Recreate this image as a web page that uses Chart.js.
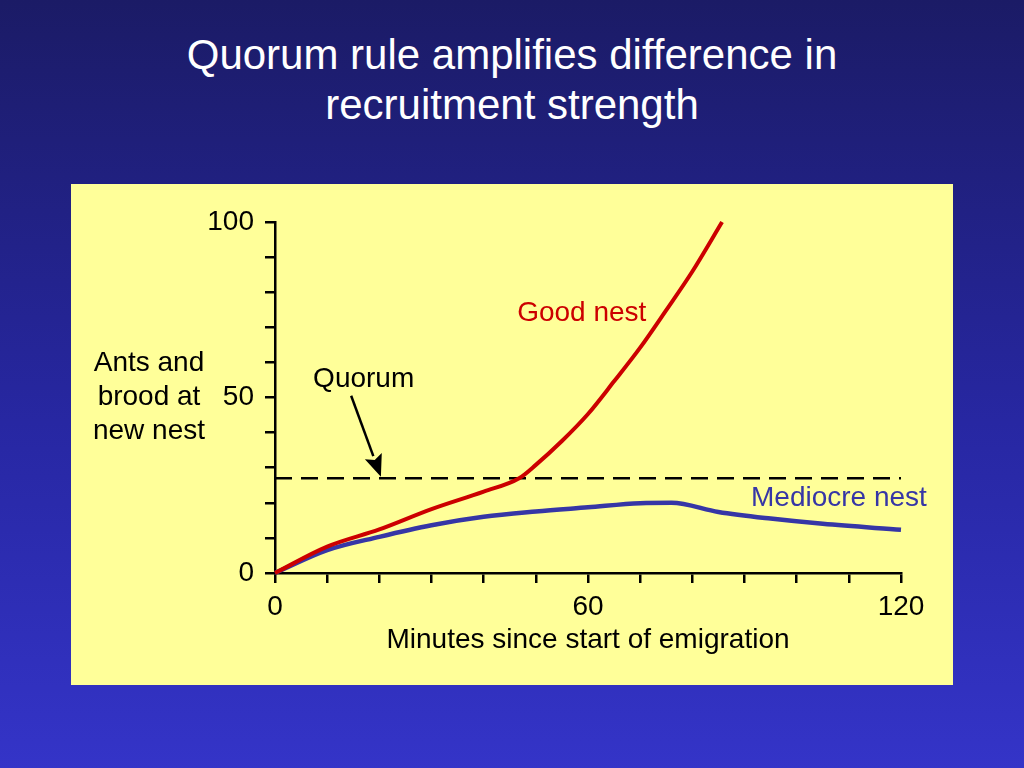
<!DOCTYPE html>
<html><head><meta charset="utf-8">
<script src="https://cdn.jsdelivr.net/npm/chart.js@4/dist/chart.umd.min.js"></script>
<style>
html,body{margin:0;padding:0;width:1024px;height:768px;overflow:hidden;}
body{background:linear-gradient(to bottom,#1b1b66 0%,#2727a2 55%,#3434c8 100%);font-family:"Liberation Sans",Arial,sans-serif;}
#title{position:absolute;left:0;top:30px;width:1024px;text-align:center;color:#fff;font-size:42px;line-height:50px;}
#panel{position:absolute;left:71px;top:184px;width:882px;height:501px;background:#ffff99;}
canvas{display:block;}
</style></head>
<body>
<div id="title">Quorum rule amplifies difference in<br>recruitment strength</div>
<div id="panel"><canvas id="c" width="882" height="501"></canvas></div>
<script>
// ---- data ----
const goodMinutes = [0, 10, 20, 30, 40, 46.8, 50, 55, 60, 65, 70, 75, 80, 85.7];
const goodValues  = [0, 7.5, 12.4, 18.2, 23.2, 27, 30.8, 37.6, 45.3, 54.6, 64.2, 74.9, 85.9, 100];
const medMinutes  = [0, 10, 20, 30, 40, 50, 60, 70, 76, 85, 95, 105, 120];
const medValues   = [0, 6.5, 10.3, 13.6, 16, 17.5, 18.7, 19.9, 20, 17.4, 15.5, 14, 12.3];
const quorumMinutes = [0, 120];
const quorumValues  = [27, 27];
const xTickLabels = [0, 60, 120];
const yTickLabels = [0, 50, 100];
const yTitleLines = ['Ants and', 'brood at', 'new nest'];

const FONT = '"Liberation Sans", Arial, Helvetica, sans-serif';
const toXY = (xs, ys) => xs.map((x, i) => ({x: x, y: ys[i]}));

const annotations = {
  labels: [
    {text: 'Good nest', x: 58.8, y: 74, color: '#cc0000'},
    {text: 'Quorum', x: 17, y: 55.3, color: '#000000'},
    {text: 'Mediocre nest', x: 108.1, y: 21.2, color: '#3636a6'}
  ],
  arrow: {from: [14.6, 50.5], to: [20.3, 27.4]}
};

const overlay = {
  id: 'overlay',
  afterDatasetsDraw(chart) {
    const ctx = chart.ctx, xs = chart.scales.x, ys = chart.scales.y;
    ctx.save();
    // arrow
    const a = annotations.arrow;
    const x1 = xs.getPixelForValue(a.from[0]), y1 = ys.getPixelForValue(a.from[1]);
    const x2 = xs.getPixelForValue(a.to[0]), y2 = ys.getPixelForValue(a.to[1]);
    const ang = Math.atan2(y2 - y1, x2 - x1);
    const hl = 22, hw = 9;
    const bx = x2 - hl * Math.cos(ang), by = y2 - hl * Math.sin(ang);
    ctx.strokeStyle = '#000'; ctx.fillStyle = '#000'; ctx.lineWidth = 2.5;
    ctx.beginPath(); ctx.moveTo(x1, y1); ctx.lineTo(bx, by); ctx.stroke();
    ctx.beginPath();
    ctx.moveTo(x2, y2);
    ctx.lineTo(bx + hw * Math.sin(ang), by - hw * Math.cos(ang));
    ctx.lineTo(bx + 4 * Math.cos(ang), by + 4 * Math.sin(ang));
    ctx.lineTo(bx - hw * Math.sin(ang), by + hw * Math.cos(ang));
    ctx.closePath(); ctx.fill();
    // labels
    ctx.font = '28px ' + FONT;
    ctx.textAlign = 'center'; ctx.textBaseline = 'middle';
    annotations.labels.forEach(l => {
      ctx.fillStyle = l.color;
      ctx.fillText(l.text, xs.getPixelForValue(l.x), ys.getPixelForValue(l.y));
    });
    // y title (horizontal lines)
    ctx.fillStyle = '#000';
    const cx = chart.chartArea.left - 126, cy = ys.getPixelForValue(50);
    yTitleLines.forEach((t, i) => ctx.fillText(t, cx, cy + (i - 1) * 34));
    ctx.restore();
  }
};

const tickFont = {family: FONT, size: 28};
new Chart(document.getElementById('c'), {
  type: 'line',
  data: {
    datasets: [
      {label: 'Good nest', data: toXY(goodMinutes, goodValues), borderColor: '#cc0000', borderWidth: 4,
       pointRadius: 0, cubicInterpolationMode: 'monotone', clip: 8},
      {label: 'Mediocre nest', data: toXY(medMinutes, medValues), borderColor: '#3636a6', borderWidth: 4.5,
       pointRadius: 0, cubicInterpolationMode: 'monotone', clip: 8},
      {label: 'Quorum', data: toXY(quorumMinutes, quorumValues), borderColor: '#000', borderWidth: 2.5,
       borderDash: [17, 9], pointRadius: 0, clip: 8}
    ]
  },
  options: {
    responsive: false, animation: false,
    layout: {padding: {left: 0, right: 52, top: 38, bottom: 0}},
    plugins: {legend: {display: false}, tooltip: {enabled: false}, title: {display: false}},
    scales: {
      x: {
        type: 'linear', min: 0, max: 120, position: 'bottom',
        border: {display: true, color: '#000', width: 2.5},
        grid: {display: true, drawOnChartArea: false, drawTicks: true, tickLength: 10, color: '#000', lineWidth: 2.5},
        ticks: {stepSize: 10, autoSkip: false, maxRotation: 0, color: '#000', font: tickFont, padding: 7,
                callback: v => xTickLabels.includes(v) ? String(v) : ''},
        title: {display: true, text: 'Minutes since start of emigration', color: '#000', font: tickFont,
                padding: {top: 4, bottom: 28}},
        afterFit: s => { s.height = 112; }
      },
      y: {
        min: 0, max: 100,
        border: {display: true, color: '#000', width: 2.5},
        grid: {display: true, drawOnChartArea: false, drawTicks: true, tickLength: 10, color: '#000', lineWidth: 2.5},
        ticks: {stepSize: 10, autoSkip: false, color: '#000', font: tickFont, padding: 11,
                callback: v => yTickLabels.includes(v) ? String(v) : ''},
        afterFit: s => { s.width = 204; }
      }
    }
  },
  plugins: [overlay]
});
</script>
</body></html>
